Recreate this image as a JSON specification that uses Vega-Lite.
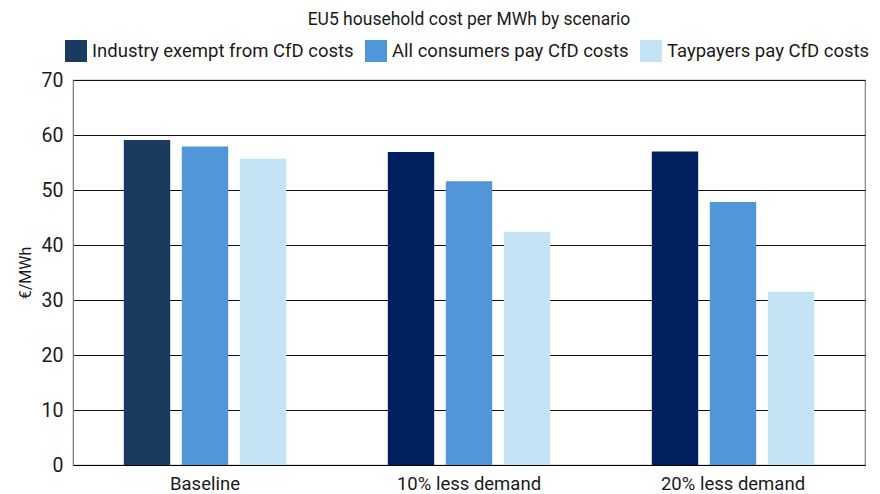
{
  "$schema": "https://vega.github.io/schema/vega-lite/v6.json",
  "width": 792,
  "height": 385,
  "autosize": {"type": "none"},
  "padding": {"left": 73, "top": 80, "right": 15, "bottom": 29},
  "background": "white",
  "title": {
    "text": "EU5 household cost per MWh by scenario",
    "anchor": "middle",
    "fontSize": 17.5,
    "fontWeight": "normal",
    "font": "Roboto",
    "color": "#1a1a1a",
    "offset": 12
  },
  "data": {
    "values": [
      {"scenario": "Baseline", "series": "Industry exempt from CfD costs", "cost": 59.1},
      {"scenario": "Baseline", "series": "All consumers pay CfD costs", "cost": 57.9},
      {"scenario": "Baseline", "series": "Taypayers pay CfD costs", "cost": 55.7},
      {"scenario": "10% less demand", "series": "Industry exempt from CfD costs", "cost": 56.9},
      {"scenario": "10% less demand", "series": "All consumers pay CfD costs", "cost": 51.6},
      {"scenario": "10% less demand", "series": "Taypayers pay CfD costs", "cost": 42.4},
      {"scenario": "20% less demand", "series": "Industry exempt from CfD costs", "cost": 57.0},
      {"scenario": "20% less demand", "series": "All consumers pay CfD costs", "cost": 47.8},
      {"scenario": "20% less demand", "series": "Taypayers pay CfD costs", "cost": 31.5}
    ]
  },
  "mark": {"type": "bar"},
  "encoding": {
    "x": {
      "field": "scenario",
      "type": "nominal",
      "sort": ["Baseline", "10% less demand", "20% less demand"],
      "scale": {"paddingInner": 0.341, "paddingOuter": 0.1705},
      "axis": {
        "title": null,
        "labelAngle": 0,
        "labelFont": "Roboto",
        "labelFontSize": 18.5,
        "labelColor": "#1a1a1a",
        "labelPadding": 9,
        "ticks": false,
        "domainColor": "#000000",
        "domainWidth": 1.2
      }
    },
    "xOffset": {
      "field": "series",
      "type": "nominal",
      "sort": ["Industry exempt from CfD costs", "All consumers pay CfD costs", "Taypayers pay CfD costs"],
      "scale": {"paddingInner": 0.2, "paddingOuter": 0.1}
    },
    "y": {
      "field": "cost",
      "type": "quantitative",
      "scale": {"domain": [0, 70], "nice": false},
      "axis": {
        "title": "€/MWh",
        "titleFont": "Roboto",
        "titleFontSize": 16,
        "titleFontWeight": "normal",
        "titleColor": "#1a1a1a",
        "titlePadding": 8,
        "values": [0, 10, 20, 30, 40, 50, 60, 70],
        "labelFont": "Roboto",
        "labelFontSize": 19.5,
        "labelColor": "#1a1a1a",
        "labelPadding": 10,
        "ticks": false,
        "domain": true,
        "domainColor": "#808080",
        "grid": true,
        "gridColor": "#111111",
        "gridWidth": 1
      }
    },
    "color": {
      "condition": {
        "test": "datum.series === 'Industry exempt from CfD costs' && datum.scenario !== 'Baseline'",
        "value": "#002060"
      },
      "field": "series",
      "type": "nominal",
      "scale": {
        "domain": ["Industry exempt from CfD costs", "All consumers pay CfD costs", "Taypayers pay CfD costs"],
        "range": ["#1a3a5f", "#5096d8", "#c2e4f4"]
      },
      "legend": {
        "title": null,
        "orient": "none",
        "legendX": -8,
        "legendY": -40,
        "direction": "horizontal",
        "symbolType": "square",
        "symbolSize": 484,
        "symbolStrokeWidth": 0,
        "labelFont": "Roboto",
        "labelFontSize": 18.5,
        "labelColor": "#1a1a1a",
        "labelLimit": 0,
        "labelOffset": 5,
        "columnPadding": 11
      }
    }
  },
  "config": {
    "view": {"stroke": "#808080", "strokeWidth": 1.2}
  }
}
